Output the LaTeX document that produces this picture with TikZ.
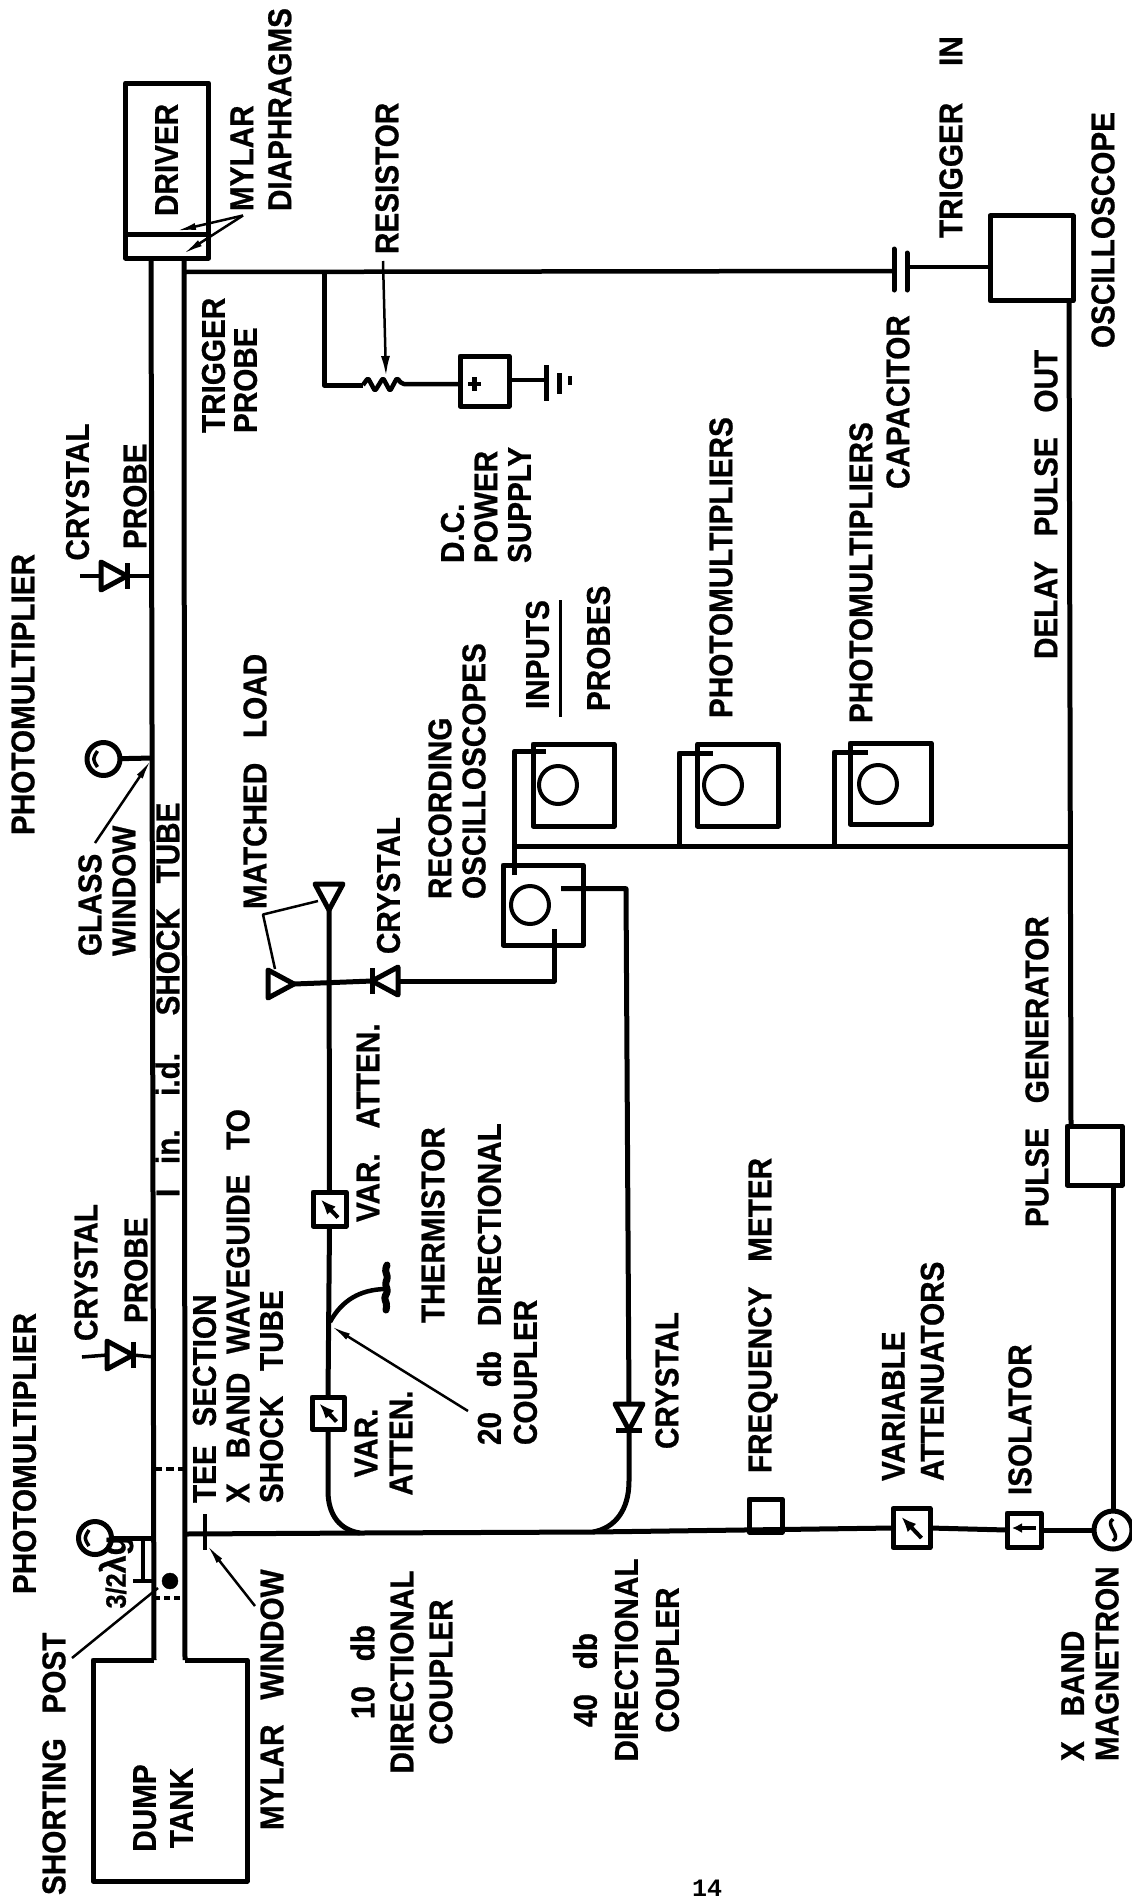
\documentclass[tikz,border=0pt]{standalone}
\usepackage{fontspec}
\usetikzlibrary{arrows.meta}
\newfontfamily\lbf{Liberation Sans}[FakeStretch=0.9,WordSpace=3,BoldFeatures={FakeBold=0.7}]
\newfontfamily\pnf{Liberation Mono}
\tikzset{
  every path/.style={line join=round},
  wire/.style={line width=5pt},
  thin wire/.style={line width=3.5pt},
  bx/.style 2 args={draw,line width=5pt,inner sep=0pt,outer sep=0pt,minimum width=#1pt,minimum height=#2pt},
  screen/.style={draw,circle,line width=4pt,inner sep=0pt,outer sep=0pt,minimum size=38pt},
  pmt/.style={draw,circle,line width=5pt,inner sep=0pt,outer sep=0pt,minimum size=33pt},
  lead/.style={line width=2.5pt,-{Latex[length=20pt,width=7pt]}},
  plain lead/.style={line width=2.5pt},
  lb/.style={rotate=90,font=\lbf\bfseries\fontsize{33}{#1}\selectfont,align=left,inner sep=0pt,outer sep=0pt,anchor=west},
  lb/.default=34pt,
  lc/.style={rotate=90,font=\lbf\bfseries\fontsize{33}{#1}\selectfont,align=center,inner sep=0pt,outer sep=0pt,anchor=center},
  diode/.pic={
    \draw[line width=5pt] (0,-14) -- (26,0) -- (0,14) -- cycle;
    \draw[line width=5pt] (26,-13) -- (26,13);
    \coordinate (-base) at (0,0);
    \coordinate (-tip) at (26,0);
  },
  mload/.pic={
    \draw[line width=5pt] (0,-14) -- (26,0) -- (0,14) -- cycle;
    \coordinate (-tip) at (26,0);
  },
  atten/.pic={
    \draw[line width=4pt,-{Latex[length=15pt,width=12pt]}] (10,10) -- (-10,-11);
  }
}
\begin{document}
\begin{tikzpicture}[x=1pt,y=-1pt]
\useasboundingbox (0,0) rectangle (1132,1903);

% ---- shock tube ----
\node[bx={83}{175}] (driver) at (167,170.5) {};
\coordinate (dv) at (0,234);
\draw[wire] (driver.west |- dv) -- (driver.east |- dv);
\coordinate (tl0) at (151,258); \coordinate (tl1) at (154,1660);
\coordinate (tr0) at (184,258); \coordinate (tr1) at (185,1660);
\draw[wire] (tl0) -- (tl1);
\draw[wire] (tr0) -- (tr1);
\coordinate (tk1) at (93,1660); \coordinate (tk2) at (93,1881);
\coordinate (tk3) at (247,1881); \coordinate (tk4) at (247,1660);
\draw[wire] (tl1) -- (tk1) -- (tk2) -- (tk3) -- (tk4) -- (tr1);
\coordinate (ds1) at (154,1469); \coordinate (ds2) at (185,1469);
\coordinate (ds3) at (154,1598); \coordinate (ds4) at (185,1598);
\draw[line width=3.5pt,dash pattern=on 8pt off 4pt] (ds1) -- (ds2);
\draw[line width=4pt,dash pattern=on 6pt off 4pt] (ds3) -- (ds4);

% ---- probes on the tube ----
\pic (c1) at (101,576) {diode};
\coordinate (c1s) at (80,576); \coordinate (c1t) at (151,576);
\draw[thin wire] (c1s) -- (c1-base);
\draw[thin wire] (c1-tip) -- (c1t);
\pic (c2) at (107,1355) {diode};
\coordinate (c2s) at (82,1357); \coordinate (c2t) at (154,1357);
\draw[thin wire] (c2s) -- (c2-base);
\draw[thin wire] (c2-tip) -- (c2t);

\node[pmt] (pm1) at (103.5,759) {};
\coordinate (pm1t) at (153,758);
\draw[wire] (pm1) -- (pm1t);
\draw[line width=3.5pt,shift={(pm1.center)}] (-6,-8) .. controls (-11,0) and (-11,0) .. (-6,8);
\node[pmt] (pm2) at (95,1538) {};
\coordinate (pm2t) at (154,1538);
\draw[wire] (pm2) -- (pm2t);
\draw[line width=3.5pt,shift={(pm2.center)}] (-6,-8) .. controls (-11,0) and (-11,0) .. (-6,8);

% ---- shorting post and guide wavelength mark ----
\node[draw,fill,circle,inner sep=0pt,minimum size=16pt] (post) at (170,1581) {};
\coordinate (dm1) at (143,1540); \coordinate (dm2) at (143,1581);
\coordinate (dm3) at (133,1581); \coordinate (dm4) at (154,1581);
\draw[line width=3.5pt] (dm1) -- (dm2);
\draw[line width=3.5pt] (dm3) -- (dm4);
\node[rotate=90,inner sep=0pt,font=\lbf\bfseries\fontsize{36}{36}\selectfont] (lamg) at (116,1572) {{\fontsize{28}{28}\selectfont 3/2}λg};
\coordinate (sp1) at (72,1658); \coordinate (sp2) at (158,1588);
\draw[plain lead] (sp1) -- (sp2);

% ---- main guide ----
\coordinate (mg0) at (185,1534); \coordinate (mg1) at (360,1533);
\coordinate (mg2) at (593,1532);
\node[bx={37}{39}] (att1) at (911.5,1528) {};
\node[bx={34}{34}] (iso) at (1024,1530) {};
\node[draw,circle,line width=5pt,inner sep=0pt,outer sep=0pt,minimum size=38pt] (mag) at (1113,1530) {};
\node[bx={33}{33}] (fm) at (765.5,1515.5) {};
\draw[wire] (mg0) -- (mg1) -- (mg2) -- (att1.west);
\draw[wire] (att1.east) -- (iso.west);
\draw[wire] (iso.east) -- (mag.west);
\pic at (att1.center) {atten};
\coordinate (is1) at (1036,1528); \coordinate (is2) at (1012,1528);
\draw[line width=4pt,-{Latex[length=10pt,width=10pt]}] (is1) -- (is2);
\draw[line width=3.5pt] (1113,1519) .. controls (1104,1525) and (1122,1535) .. (1113,1541);
% mylar window
\coordinate (w1) at (205,1514); \coordinate (w2) at (205,1550);
\draw[line width=4pt] (w1) -- (w2);
\coordinate (w3) at (255,1606); \coordinate (w4) at (207,1545);
\draw[lead] (w3) -- (w4);

% ---- upper branch: 10 db coupler ----
\node[bx={32}{32}] (va1) at (328,1413) {};
\node[bx={33}{34}] (va2) at (329.5,1209) {};
\coordinate (b0) at (328,1491);
\draw[wire] (mg1) .. controls (340,1530) and (328,1515) .. (b0) -- (va1.south);
\draw[wire] (va1.north) -- (va2.south);
\pic[scale=0.85] at (va1.center) {atten};
\pic[scale=0.85] at (va2.center) {atten};
\pic (ml1) at (329,884) [rotate=-90] {mload};
\pic (ml2) at (268,984) {mload};
\draw[wire] (va2.north) -- (ml1-tip);
\pic (c3) at (398,981) [rotate=180] {diode};
\draw[wire] (ml2-tip) -- (c3-tip);
% thermistor
\coordinate (th0) at (330,1322); \coordinate (th1) at (384,1289);
\draw[line width=4.5pt] (th0) .. controls (342,1300) and (360,1290) .. (th1);
\coordinate (th2) at (387,1265); \coordinate (th3) at (386,1310);
\draw[line width=7pt,line cap=round,rounded corners=3pt] (th2) -- (385,1271) -- (388,1277) -- (385,1284) -- (388,1291) -- (384,1298) -- (387,1304) -- (th3);
% 20 db leader
\coordinate (l20a) at (468,1411); \coordinate (l20b) at (331,1326);
\draw[lead] (l20a) -- (l20b);

% ---- lower branch: 40 db coupler ----
\pic (c4) at (629,1404) [rotate=-90] {diode};
\coordinate (r0) at (629,1481);
\draw[wire] (mg2) .. controls (615,1528) and (629,1510) .. (r0) -- (c4-tip);

% ---- recording oscilloscopes ----
\node[bx={80}{80}] (s0) at (543,905) {};
\node[screen] (s0c) at (530,905) {};
\node[bx={81}{82}] (s1) at (573.5,785) {};
\node[screen] (s1c) at (558,785) {};
\node[bx={81}{82}] (s2) at (738,785) {};
\node[screen] (s2c) at (723,785) {};
\node[bx={81}{81}] (s3) at (890.5,783.5) {};
\node[screen] (s3c) at (878,784) {};
\coordinate (rw1) at (626,888.7); \coordinate (rw0) at (561,888.7);
\draw[wire] (rw0) -- (rw1) -- (c4-base);
\coordinate (cw1) at (554,929); \coordinate (cw2) at (554,981);
\draw[wire] (cw1) -- (cw2) -- (c3-base);
% bus
\coordinate (bus0) at (514.6,846.6); \coordinate (bus4) at (1071,846.6);
\coordinate (f1a) at (514.6,875); \coordinate (f1b) at (514.6,751); \coordinate (f1c) at (546,751);
\coordinate (f2a) at (679,846.6); \coordinate (f2b) at (679,753); \coordinate (f2c) at (713,753);
\coordinate (f3a) at (834,846.6); \coordinate (f3b) at (834,752); \coordinate (f3c) at (868,752);
\draw[wire] (bus0) -- (bus4);
\draw[wire] (f1a) -- (f1b) -- (f1c);
\draw[wire] (f2a) -- (f2b) -- (f2c);
\draw[wire] (f3a) -- (f3b) -- (f3c);

% ---- trigger and pulse circuit ----
\coordinate (trg) at (184,272);
\coordinate (cp1) at (894,271); \coordinate (cp2) at (907,267);
\node[bx={83}{85}] (osc) at (1031.5,258.3) {};
\draw[line width=4.5pt] (trg) -- (cp1);
\coordinate (p1a) at (894,249); \coordinate (p1b) at (894,290);
\coordinate (p2a) at (907,253); \coordinate (p2b) at (907,290);
\draw[line width=5pt,line cap=round] (p1a) -- (p1b);
\draw[line width=5pt,line cap=round] (p2a) -- (p2b);
\draw[line width=4.5pt] (cp2) -- (osc.west |- cp2);
\coordinate (dp1) at (1069,300.8); \coordinate (dp2) at (1071,1126);
\node[bx={55}{59}] (pg) at (1094.5,1155.5) {};
\draw[wire] (dp1) -- (dp2);
\coordinate (pgo) at (1113,1185);
\draw[wire] (pgo) -- (mag.north -| pgo);
% resistor and supply
\node[bx={49}{50}] (psu) at (484.5,381) {};
\coordinate (br0) at (324,272); \coordinate (br1) at (324,385);
\coordinate (zg0) at (363,385); \coordinate (zg1) at (402,384);
\draw[wire] (br0) -- (br1) -- (zg0);
\draw[line width=4.5pt,rounded corners=2pt] (zg0) -- (368,378) -- (375,391) -- (383,378) -- (390,391) -- (397,378) -- (zg1) -- (psu.west |- zg1);
\coordinate (ra) at (383,261); \coordinate (rb) at (386,376);
\draw[line width=2.5pt,-{Latex[length=20pt,width=9pt]}] (ra) -- (rb);
\draw[line width=4.5pt] (468,384) -- (481,384) (474.5,377) -- (474.5,391);
\coordinate (g0) at (546.5,380);
\draw[line width=4.5pt] (psu.east |- g0) -- (g0);
\coordinate (g1a) at (546.5,365); \coordinate (g1b) at (546.5,401);
\coordinate (g2a) at (559.5,373); \coordinate (g2b) at (559.5,394);
\coordinate (g3a) at (570,376); \coordinate (g3b) at (570,385);
\draw[line width=4.5pt] (g1a) -- (g1b);
\draw[line width=4.5pt] (g2a) -- (g2b);
\draw[line width=4.5pt] (g3a) -- (g3b);
% diaphragm leaders
\coordinate (dl0) at (243,215.5); \coordinate (dl1) at (176,231); \coordinate (dl2) at (183,254);
\draw[lead] (dl0) -- (dl1);
\draw[lead] (dl0) -- (dl2);
% glass window leader
\coordinate (gw0) at (95,843); \coordinate (gw1) at (151,760);
\draw[lead] (gw0) -- (gw1);
% matched load leader
\coordinate (mc) at (263,914.5); \coordinate (mc1) at (318,901); \coordinate (mc2) at (275,969);
\draw[plain lead] (mc1) -- (mc) -- (mc2);
% inputs / probes rule
\coordinate (ip0) at (560,600); \coordinate (ip1) at (560,716.5);
\draw[line width=3pt] (ip0) -- (ip1);

% ---- labels ----
\node[lb] (t1) at (23,835) {PHOTOMULTIPLIER};
\node[lb] (t2) at (24.5,1594) {PHOTOMULTIPLIER};
\node[lb] (t3) at (77.5,560.5) {CRYSTAL};
\node[lb] (t4) at (135,549) {PROBE};
\node[lb] (t5) at (86,1341) {CRYSTAL};
\node[lb] (t6) at (136,1323) {PROBE};
\node[lb=34pt] (t7) at (107,956) {GLASS\\WINDOW};
\node[lb] (t8) at (167.5,1197) {I in.\hspace{6pt} i.d.\hspace{10pt} SHOCK TUBE};
\node[lb=33.5pt] (t9) at (238,1503) {TEE\hspace{-6pt} SECTION\\X BAND\hspace{-6pt} WAVEGUIDE TO\\SHOCK TUBE};
\node[lb] (t10) at (54,1895) {SHORTING POST};
\node[lb] (t11) at (272,1830) {MYLAR WINDOW};
\node[lc=37pt] (t12) at (163,1808) {DUMP\\TANK};
\node[lc=39pt] (t13) at (401.5,1672) {10 db\\DIRECTIONAL\\COUPLER};
\node[lc=41pt] (t14) at (626,1660) {40 db\hspace*{40pt}\\DIRECTIONAL\\COUPLER};
\node[lc=35pt] (t15) at (383.5,1443) {VAR.\\ATTEN.};
\node[lb] (t16) at (368,1222) {VAR. ATTEN.};
\node[lb] (t17) at (433,1323) {THERMISTOR};
\node[lb=36pt] (t18) at (507,1445) {20 db DIRECTIONAL\\COUPLER};
\node[lb] (t19) at (667,1449) {CRYSTAL};
\node[lb] (t20) at (763,1473) {FREQUENCY METER};
\node[lb=39pt] (t21) at (913,1481) {VARIABLE\\ATTENUATORS};
\node[lb] (t22) at (1020,1495) {ISOLATOR};
\node[lb=34.5pt] (t23) at (1090,1761) {X BAND\\MAGNETRON};
\node[lb] (t24) at (1037,1227) {PULSE GENERATOR};
\node[lb] (t25) at (1046,659) {DELAY PULSE OUT};
\node[lb] (t26) at (1103,348) {OSCILLOSCOPE};
\node[lb] (t27) at (951,238) {TRIGGER\hspace{12pt} IN};
\node[lb] (t28) at (898,489) {CAPACITOR};
\node[lb] (t29) at (721,718) {PHOTOMULTIPLIERS};
\node[lb] (t30) at (861,723) {PHOTOMULTIPLIERS};
\node[lb] (t31) at (537.5,709) {INPUTS};
\node[lb] (t32) at (598.5,711) {PROBES};
\node[lb=34pt] (t33) at (457,899) {RECORDING\\OSCILLOSCOPES};
\node[lb] (t34) at (388.5,954) {CRYSTAL};
\node[lb] (t35) at (255,909) {MATCHED LOAD};
\node[lb=32pt] (t36) at (229.5,433) {TRIGGER\\PROBE};
\node[lb=33.5pt] (t37) at (486,563) {D.C.\\POWER\\SUPPLY};
\node[lb] (t38) at (387,254) {RESISTOR};
\node[lb] (t39) at (166.5,216) {DRIVER};
\node[lb=38pt] (t40) at (261,211) {MYLAR\\DIAPHRAGMS};
\node[inner sep=0pt,anchor=base,font=\pnf\bfseries\fontsize{25}{25}\selectfont] (pn) at (707,1896) {14};
\end{tikzpicture}
\end{document}
